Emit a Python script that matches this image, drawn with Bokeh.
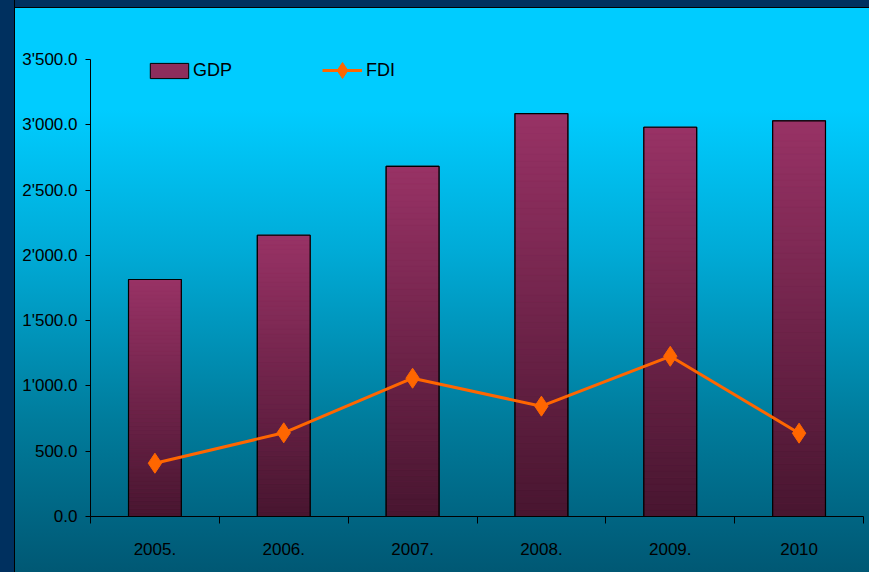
from bokeh.plotting import figure
from bokeh.models import (Range1d, FixedTicker, Legend, LegendItem, ColumnDataSource)
from bokeh.embed import file_html
from bokeh.resources import INLINE

# ---- data ----
years = ["2005.", "2006.", "2007.", "2008.", "2009.", "2010"]
gdp = [1815, 2154, 2682, 3086, 2981, 3030]
fdi = [408, 641, 1059, 845, 1227, 638]
y_ticks = [0, 500, 1000, 1500, 2000, 2500, 3000, 3500]
y_tick_labels = ["0.0", "500.0", "1'000.0", "1'500.0", "2'000.0", "2'500.0", "3'000.0", "3'500.0"]

FONT = "Liberation Sans"
PINK = (153, 51, 102)
DARK = (72, 22, 48)

n = len(years)
xc = [i + 0.5 for i in range(n)]

p = figure(width=869, height=572, output_backend="svg", toolbar_location=None,
           x_range=Range1d(0, n), y_range=Range1d(0, 3500),
           min_border_left=90, min_border_right=6, min_border_top=59, min_border_bottom=56)
p.border_fill_color = None
p.background_fill_color = None
p.outline_line_color = None
p.grid.visible = False

# base bars (used for legend swatch)
base = p.vbar(x=xc, top=gdp, bottom=0, width=0.41, fill_color="#8d2d5c",
              line_color="black", line_width=1)

# gradient segments
N = 60
sx, sb, st, sc = [], [], [], []
for i, v in enumerate(gdp):
    for k in range(N):
        f = (k + 0.5) / N
        r = int(DARK[0] + (PINK[0] - DARK[0]) * f)
        g = int(DARK[1] + (PINK[1] - DARK[1]) * f)
        b = int(DARK[2] + (PINK[2] - DARK[2]) * f)
        sx.append(xc[i]); sb.append(v * k / N); st.append(v * (k + 1) / N)
        sc.append("#%02x%02x%02x" % (r, g, b))
seg = ColumnDataSource(dict(x=sx, bottom=sb, top=st, color=sc))
p.vbar(x="x", bottom="bottom", top="top", width=0.41, fill_color="color",
       line_color="color", line_width=0.6, source=seg)

# outlines
p.vbar(x=xc, top=gdp, bottom=0, width=0.41, fill_color=None, line_color="black", line_width=1.2)

# FDI line
ln = p.line(xc, fdi, line_color="#ff6600", line_width=3)
mk = p.scatter(xc, fdi, marker="diamond", size=20, fill_color="#ff6600", line_color="#ff6600")

# axes
ya = p.yaxis[0]
ya.ticker = FixedTicker(ticks=y_ticks, minor_ticks=[])
ya.major_label_overrides = {t: l for t, l in zip(y_ticks, y_tick_labels)}
ya.major_tick_out = 5
ya.major_tick_in = 0
ya.minor_tick_out = 0
ya.minor_tick_in = 0
ya.major_label_standoff = 8
ya.axis_line_color = "black"
ya.major_tick_line_color = "black"
ya.major_label_text_font = FONT
ya.major_label_text_font_size = "17px"
ya.major_label_text_color = "black"

xa = p.xaxis[0]
xa.ticker = FixedTicker(ticks=xc, minor_ticks=list(range(n + 1)))
xa.major_label_overrides = {x: y for x, y in zip(xc, years)}
xa.major_tick_out = 0
xa.major_tick_in = 0
xa.minor_tick_out = 7
xa.minor_tick_in = 0
xa.minor_tick_line_color = "black"
xa.axis_line_color = "black"
xa.major_label_standoff = 19
xa.major_label_text_font = FONT
xa.major_label_text_font_size = "17px"
xa.major_label_text_color = "black"

# legends
leg1 = Legend(items=[LegendItem(label="GDP", renderers=[base])],
              location=(55, 435), orientation="horizontal",
              glyph_width=48, glyph_height=19, label_standoff=0, padding=0, margin=0,
              background_fill_alpha=0, border_line_alpha=0,
              label_text_font=FONT, label_text_font_size="18px", label_text_color="black")
leg2 = Legend(items=[LegendItem(label="FDI", renderers=[ln, mk])],
              location=(232, 424), orientation="horizontal",
              glyph_width=40, glyph_height=44, label_standoff=4, padding=0, margin=0,
              background_fill_alpha=0, border_line_alpha=0,
              label_text_font=FONT, label_text_font_size="18px", label_text_color="black")
p.add_layout(leg1)
p.add_layout(leg2)

css = """<style>
html { height: 572px; overflow: hidden;
  background:
    linear-gradient(to right, #00305f 0px, #00305f 14px, #000 14px, #000 15px, transparent 15px) no-repeat,
    linear-gradient(to bottom, #00305f 0px, #00305f 7px, #000 7px, #000 8px, transparent 8px) no-repeat,
    linear-gradient(to bottom, #00ccff 0px, #00ccff 110px, #00abd7 250px, #007c9c 420px, #005874 572px) no-repeat;
  background-size: 100% 572px; }
body { background: transparent; overflow: hidden; }
</style>
</head>"""

html = file_html(p, INLINE)
html = html.replace("</head>", css, 1)
open("out.html", "w").write(html)
